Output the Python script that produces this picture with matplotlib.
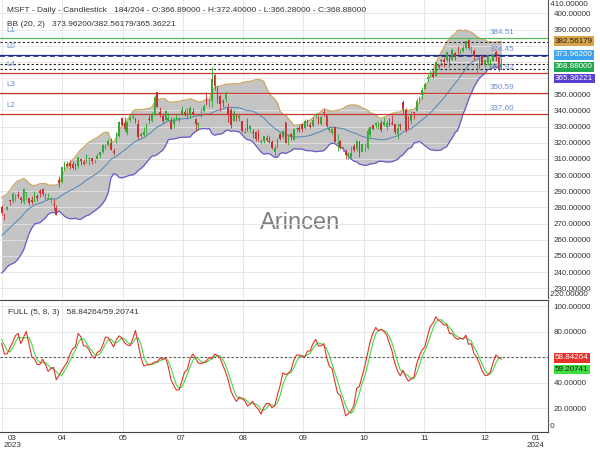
import numpy as np
import pandas as pd
import matplotlib
matplotlib.use("Agg")
import matplotlib.pyplot as plt

plt.rcParams['font.family'] = ['Liberation Sans', 'DejaVu Sans']

# bars before the first shown one (only used to start the indicators)
warm_close = [249.42, 246.27, 251.11, 255.29, 256.87, 254.15, 253.70, 252.32, 248.59, 253.92,
              260.79, 265.44, 276.20, 279.43, 272.23, 273.78, 272.29, 277.66, 280.57]
warm_high = [254.54, 259.56, 252.79, 257.91, 261.07, 266.48, 276.56, 283.33, 277.48, 275.00,
             281.04, 281.06, 280.63]
warm_low = [250.81, 251.58, 247.60, 245.73, 255.86, 259.21, 263.28, 276.32, 269.85, 269.52,
            272.18, 275.20, 275.28]

# daily bars, 27 Mar 2023 .. 15 Dec 2023
opens = [280.50, 275.79, 278.96, 284.23, 283.73,
         286.52, 287.23, 285.85, 283.21, 289.21, 285.75, 284.79, 283.59, 287.00, 289.93, 291.57, 285.99, 285.25, 285.01, 282.09, 279.51, 296.70, 295.97, 304.01,
         306.97, 307.76, 306.62, 306.24, 305.72, 310.13, 308.00, 308.62, 310.10, 310.55, 309.10, 309.83, 312.29, 314.53, 316.73, 318.60, 320.03, 314.73, 323.24, 324.02, 335.23, 332.29,
         325.93, 334.25, 335.22, 335.33, 331.65, 323.94, 324.99, 328.58, 334.47, 333.76, 337.48, 351.32, 339.31, 336.63, 334.12, 334.36, 333.72, 331.86, 334.66, 334.71, 337.75,
         339.19, 335.09, 337.30, 339.32, 334.60, 331.06, 336.60, 339.56, 347.59, 345.68, 345.83, 361.75, 353.57, 349.15, 345.85, 347.11, 341.44, 340.48, 333.67, 336.92,
         335.19, 333.63, 326.00, 331.88, 328.37, 326.96, 326.47, 326.02, 320.26, 321.39, 323.00, 320.80, 320.54, 314.49, 317.93, 325.50, 323.82, 332.85, 321.47, 325.66, 321.88, 328.67, 329.20,
         331.31, 329.00, 333.38, 331.29, 330.09, 337.24, 335.82, 331.31, 339.15, 336.92, 327.80, 326.17, 329.51, 319.26, 321.32, 316.59, 315.13, 312.30, 310.99, 317.75,
         316.28, 320.83, 314.03, 319.09, 316.55, 324.75, 330.96, 331.21, 330.57, 332.38, 331.05, 329.59, 332.49, 332.20, 331.72, 325.47, 331.30, 345.02, 340.54, 330.43, 333.41, 338.85,
         339.79, 347.24, 349.63, 353.45, 359.40, 361.68, 362.30, 361.49, 368.22, 371.01, 371.28, 370.96, 373.61, 371.22, 375.67, 378.00, 377.33, 376.78, 378.35, 383.76, 378.49,
         376.76, 369.10, 366.45, 373.54, 368.23, 369.20, 368.48, 370.85, 376.02, 373.31, 366.89]
highs = [281.46, 276.14, 281.14, 284.46, 289.27,
         288.27, 290.45, 287.15, 292.08, 289.60, 285.98, 287.01, 289.90, 288.48, 291.60, 291.76, 289.05, 289.03, 286.27, 284.95, 281.60, 299.57, 305.20, 308.93,
         308.60, 309.18, 308.61, 307.76, 311.97, 310.20, 310.04, 313.00, 311.12, 310.65, 309.90, 313.71, 314.43, 319.04, 319.04, 322.59, 322.72, 316.50, 326.90, 333.40, 335.74, 335.94,
         333.53, 337.50, 338.56, 335.37, 334.49, 326.64, 329.99, 332.10, 336.99, 339.04, 349.84, 351.47, 342.08, 337.73, 340.12, 338.31, 336.11, 336.15, 337.98, 336.11, 342.73,
         340.90, 341.65, 342.99, 341.79, 335.23, 332.85, 341.65, 343.74, 351.43, 346.99, 366.78, 362.46, 355.00, 350.30, 346.92, 351.89, 344.67, 341.33, 340.01, 337.70,
         338.54, 333.63, 329.88, 335.14, 330.79, 328.75, 327.11, 328.26, 322.41, 324.06, 325.09, 324.42, 321.87, 318.38, 322.77, 326.07, 328.03, 332.98, 325.36, 326.15, 328.98, 329.81, 330.91,
         331.99, 334.85, 334.46, 333.08, 336.16, 338.42, 336.79, 336.85, 340.86, 337.40, 330.40, 329.39, 329.59, 325.35, 321.45, 317.67, 315.88, 314.30, 317.89, 319.47,
         320.92, 321.39, 320.04, 320.08, 329.19, 330.01, 331.10, 332.82, 333.63, 333.83, 336.14, 333.96, 335.59, 336.88, 331.92, 332.45, 331.99, 346.20, 341.63, 336.72, 339.45, 339.00,
         347.42, 348.83, 354.39, 357.54, 362.46, 365.16, 364.79, 370.10, 368.47, 371.95, 373.13, 376.35, 374.37, 378.87, 376.22, 379.79, 377.97, 380.64, 383.00, 384.30, 380.09,
         378.16, 369.52, 373.08, 374.18, 371.45, 374.46, 371.60, 374.42, 377.64, 373.76, 372.40]
lows = [275.52, 272.05, 278.41, 281.48, 283.00,
        283.95, 285.67, 282.92, 282.03, 284.71, 281.64, 281.96, 283.17, 283.69, 286.16, 287.01, 284.54, 285.08, 283.06, 278.72, 275.37, 292.73, 295.25, 303.31,
        305.15, 303.91, 304.09, 303.40, 304.27, 306.09, 306.31, 307.67, 306.26, 306.60, 307.59, 309.83, 310.74, 313.72, 316.10, 318.01, 315.25, 312.61, 320.00, 323.88, 330.52, 327.33,
        324.72, 332.55, 334.66, 332.17, 322.50, 323.35, 324.41, 325.16, 332.33, 332.81, 337.20, 341.95, 335.86, 332.07, 333.34, 333.70, 328.49, 329.30, 333.81, 332.62, 337.20,
        336.57, 334.73, 335.50, 337.00, 327.59, 327.90, 335.67, 339.02, 343.64, 342.20, 342.17, 352.44, 344.70, 339.83, 342.31, 345.07, 333.11, 329.05, 333.17, 333.36,
        333.70, 326.36, 325.95, 327.24, 326.65, 323.00, 321.05, 321.18, 319.21, 320.08, 320.90, 319.80, 316.21, 311.55, 317.04, 321.46, 323.00, 319.96, 318.80, 321.72, 321.88, 326.45, 326.78,
        326.78, 328.66, 330.18, 329.03, 329.46, 335.43, 331.48, 331.17, 336.57, 329.65, 326.36, 324.51, 320.51, 315.00, 316.15, 315.00, 310.02, 309.69, 310.62, 314.20,
        315.19, 311.21, 314.00, 314.93, 316.30, 323.46, 327.67, 329.14, 328.72, 326.36, 330.60, 327.60, 330.34, 330.91, 325.45, 322.50, 327.60, 337.62, 326.94, 328.40, 331.83, 334.69,
        339.65, 344.77, 347.33, 353.35, 357.63, 360.48, 360.36, 361.07, 365.90, 367.35, 367.11, 370.18, 367.00, 371.00, 371.12, 374.97, 375.14, 376.20, 378.16, 377.44, 375.47,
        371.31, 362.90, 365.62, 368.03, 366.32, 368.23, 366.10, 370.46, 370.77, 364.13, 366.28]
closes = [276.38, 275.23, 280.51, 284.05, 288.30,
          287.23, 287.18, 284.34, 291.60, 289.39, 282.83, 283.49, 289.84, 286.14, 288.80, 288.37, 288.45, 286.11, 285.76, 281.77, 275.42, 295.37, 304.83, 307.26,
          305.56, 305.41, 304.40, 305.41, 310.65, 308.65, 307.00, 312.31, 310.11, 308.97, 309.46, 311.74, 314.00, 318.52, 318.34, 321.18, 315.26, 313.85, 325.92, 332.89, 331.21, 328.39,
          332.58, 335.40, 335.94, 333.68, 323.38, 325.26, 326.79, 331.85, 334.29, 337.34, 348.10, 342.33, 338.05, 333.56, 339.71, 335.02, 328.60, 334.57, 335.85, 335.05, 340.54,
          337.99, 338.15, 341.27, 337.22, 331.83, 332.47, 337.20, 342.66, 345.24, 345.73, 359.49, 355.08, 346.87, 343.77, 345.11, 350.98, 337.77, 330.72, 338.37, 335.92,
          336.34, 327.50, 326.66, 327.78, 330.11, 326.05, 322.23, 322.93, 321.01, 324.04, 321.86, 320.40, 316.88, 316.48, 321.88, 322.46, 327.00, 319.97, 322.98, 323.70, 328.41, 328.79, 327.76,
          328.66, 333.55, 332.88, 329.91, 334.27, 337.94, 331.77, 336.06, 338.70, 330.22, 329.06, 328.65, 320.77, 319.53, 317.01, 317.54, 312.14, 312.79, 313.64, 315.75,
          321.80, 313.39, 318.96, 319.36, 327.26, 329.82, 328.39, 332.42, 331.16, 327.73, 332.64, 332.06, 330.11, 331.32, 326.67, 329.32, 330.53, 340.67, 327.89, 329.81, 337.31, 338.11,
          346.07, 348.32, 352.80, 356.53, 360.53, 363.20, 360.69, 369.67, 366.68, 370.27, 369.67, 376.17, 369.85, 377.44, 373.07, 377.85, 377.43, 378.61, 382.70, 378.85, 378.91,
          374.51, 369.14, 372.52, 368.80, 370.95, 374.23, 371.30, 374.38, 374.37, 365.93, 368.88]

# horizontal levels
level_names = ['L1', 'L0', 'L4', 'L3', 'L2']
level_values = [384.51, 374.45, 362.92, 350.59, 337.60]
level_colors = ['#57b857', '#27308a', '#c8392f', '#c8392f', '#c8392f']

# last values shown in the legends / tags
bb_last = [373.96200, 382.56179, 365.36221]   # mid / upper / lower
stoch_last = [58.84264, 59.20741]             # %K / %D

# price scale labels (the ones hidden by the tags are left out)
price_ticks = [230, 240, 250, 260, 270, 280, 290, 300, 310, 320, 330, 340, 350, 390, 400]

# x axis labelling (bar index positions)
grid_x = [0.1, 22.1, 44.4, 66.4, 88.4, 110.4, 132.7, 154.7, 177.0]
tick_x = [3.8, 22.1, 44.4, 65.6, 88.4, 110.4, 132.7, 154.9, 177.0, 195.7]
tick_lab = ['03\n2023', '04', '05', '07', '08', '09', '10', '11', '12', '01\n2024']

n = len(closes)
x = np.arange(n)

# Bollinger (20, 2)
c_all = pd.Series(warm_close + closes)
mid = c_all.rolling(20).mean()
sd = c_all.rolling(20).std(ddof=0)
bb_mid = mid.values[-n:]
bb_up = (mid + 2 * sd).values[-n:]
bb_lo = (mid - 2 * sd).values[-n:]

# full stochastic (5, 8, 3)
h_all = pd.Series(warm_high + highs)
l_all = pd.Series(warm_low + lows)
c_st = pd.Series(warm_close[-len(warm_high):] + closes)
hh = h_all.rolling(5).max()
ll = l_all.rolling(5).min()
raw = 100 * (c_st - ll) / (hh - ll)
k_line = raw.rolling(8).mean()
d_line = k_line.rolling(3).mean()
k_line = k_line.values[-n:]
d_line = d_line.values[-n:]

fig = plt.figure(figsize=(6, 4.5), dpi=100)
ax = fig.add_axes([0, 1 - 298 / 450, 548 / 600, 298 / 450])
ax2 = fig.add_axes([0, 1 - 432 / 450, 548 / 600, 132 / 450], sharex=ax)

grid_c = '#e4e4e4'
txt_c = '#333333'
lab_c = '#6b8dd6'

# ---- price panel
ax.set_xlim(-0.62, 200.1)
ax.set_ylim(224.0, 408.3)
ax.set_yticks(np.arange(230, 401, 10))
ax.set_yticklabels([f'{v:.5f}' if v in price_ticks else '' for v in np.arange(230, 401, 10)])
ax.yaxis.tick_right()
ax.tick_params(axis='y', length=0, pad=4, labelsize=5.8, colors=txt_c)
ax.tick_params(axis='x', length=0, labelbottom=False)
ax.grid(axis='y', color=grid_c, lw=0.6, zorder=0)
for g in grid_x:
    ax.axvline(g, color=grid_c, lw=0.6, zorder=0)
for s in ['top', 'left', 'bottom']:
    ax.spines[s].set_visible(False)
ax.spines['right'].set_color('#555555')
ax.text(1.0, 1 - 4 / 298, ' 410.00000', transform=ax.transAxes, fontsize=5.8,
        color=txt_c, va='center', ha='left')
ax.text(1.0, 1 - 295 / 298, ' 220.00000', transform=ax.transAxes, fontsize=5.8,
        color=txt_c, va='center', ha='left')

ax.text(0.547, 0.252, 'Arincen', transform=ax.transAxes, fontsize=17, color='#808080',
        ha='center', va='center', zorder=1)

# bands
ax.fill_between(x, bb_lo, bb_up, color='#c4c4c4', lw=0, zorder=1)
ax.plot(x, bb_up, color='#c9aa6c', lw=1.0, zorder=2)
ax.plot(x, bb_lo, color='#6a5acd', lw=0.9, zorder=2)
ax.plot(x, bb_mid, color='#4f86b5', lw=0.7, zorder=2)

# levels
for name, val, col in zip(level_names, level_values, level_colors):
    ax.axhline(val, color=col, lw=0.9, zorder=3)
    ax.text(1.6, val + 5.2, name, fontsize=5.8, color=lab_c, va='center', ha='left', zorder=5)
    ax.text(178.9, val + 3.4, f'{val:.2f}', fontsize=5.8, color=lab_c, va='center',
            ha='left', zorder=5)
ax.axhline(bb_last[0], color='#1f2a80', lw=1.2, ls=(0, (3, 2)), zorder=3)
for val in [bb_last[1], closes[-1], bb_last[2]]:
    ax.axhline(val, color='#222222', lw=0.8, ls=(0, (2, 2)), zorder=3)

# candles
op = np.array(opens)
cl = np.array(closes)
cols = np.where(cl >= op, '#33a833', '#cc2e2e')
ax.vlines(x, lows, highs, colors=cols, lw=0.6, zorder=4)
ax.bar(x, np.maximum(np.abs(cl - op), 0.3), bottom=np.minimum(op, cl), width=0.6,
       color=cols, lw=0, zorder=4)

fig.text(7 / 600, 1 - 10 / 450,
         'MSFT - Daily - Candlestick   184/204 - O:366.89000 - H:372.40000 - L:366.28000 - C:368.88000',
         fontsize=6.0, color=txt_c, va='center', ha='left')
fig.text(7 / 600, 1 - 24 / 450,
         'BB (20, 2)   ' + '/'.join(f'{v:.5f}' for v in bb_last),
         fontsize=6.0, color=txt_c, va='center', ha='left')

# ---- stochastic panel
ax2.set_ylim(1.3, 104.9)
ax2.set_yticks([20, 40, 80, 100])
ax2.set_yticklabels(['20.00000', '40.00000', '80.00000', '100.00000'])
ax2.yaxis.tick_right()
ax2.tick_params(axis='y', length=0, pad=4, labelsize=5.8, colors=txt_c)
ax2.set_xticks(tick_x)
ax2.set_xticklabels(tick_lab, linespacing=1.0)
ax2.tick_params(axis='x', length=0, pad=2, labelsize=5.8, colors=txt_c)
for g in [20, 40, 60, 80, 100]:
    ax2.axhline(g, color=grid_c, lw=0.6, zorder=0)
for g in grid_x:
    ax2.axvline(g, color=grid_c, lw=0.6, zorder=0)
ax2.spines['left'].set_visible(False)
ax2.spines['top'].set_color('#444444')
ax2.spines['right'].set_color('#555555')
ax2.spines['bottom'].set_color('#444444')
ax2.text(1.0, 1 - 126 / 132, ' 0', transform=ax2.transAxes, fontsize=5.8,
         color=txt_c, va='center', ha='left')

ax2.axhline(60, color='#555555', lw=0.8, ls=(0, (2, 2)), zorder=1)
ax2.plot(x, d_line, color='#46d846', lw=0.8, zorder=2)
ax2.plot(x, k_line, color='#e2322c', lw=0.8, zorder=3)

fig.text(8 / 600, 1 - 312 / 450,
         'FULL (5, 8, 3)   ' + '/'.join(f'{v:.5f}' for v in stoch_last),
         fontsize=6.0, color=txt_c, va='center', ha='left')

# value tags on the right scale
tags = [(41.3, f'{bb_last[1]:.5f}', '#d8a44a', '#222222'),
        (55.0, f'{bb_last[0]:.5f}', '#3aa4f2', 'white'),
        (66.8, f'{closes[-1]:.5f}', '#20a84e', 'white'),
        (78.6, f'{bb_last[2]:.5f}', '#5b3fd3', 'white'),
        (357.7, f'{stoch_last[0]:.5f}', '#e5322d', 'white'),
        (369.5, f'{stoch_last[1]:.5f}', '#3ee03e', '#222222')]
for py, s, bg, fg in tags:
    fig.text(555 / 600, 1 - py / 450, s, fontsize=5.8, color=fg, va='center', ha='left',
             bbox=dict(boxstyle='square,pad=0.17', fc=bg, ec='none'))

fig.savefig('out.png', dpi=100)
